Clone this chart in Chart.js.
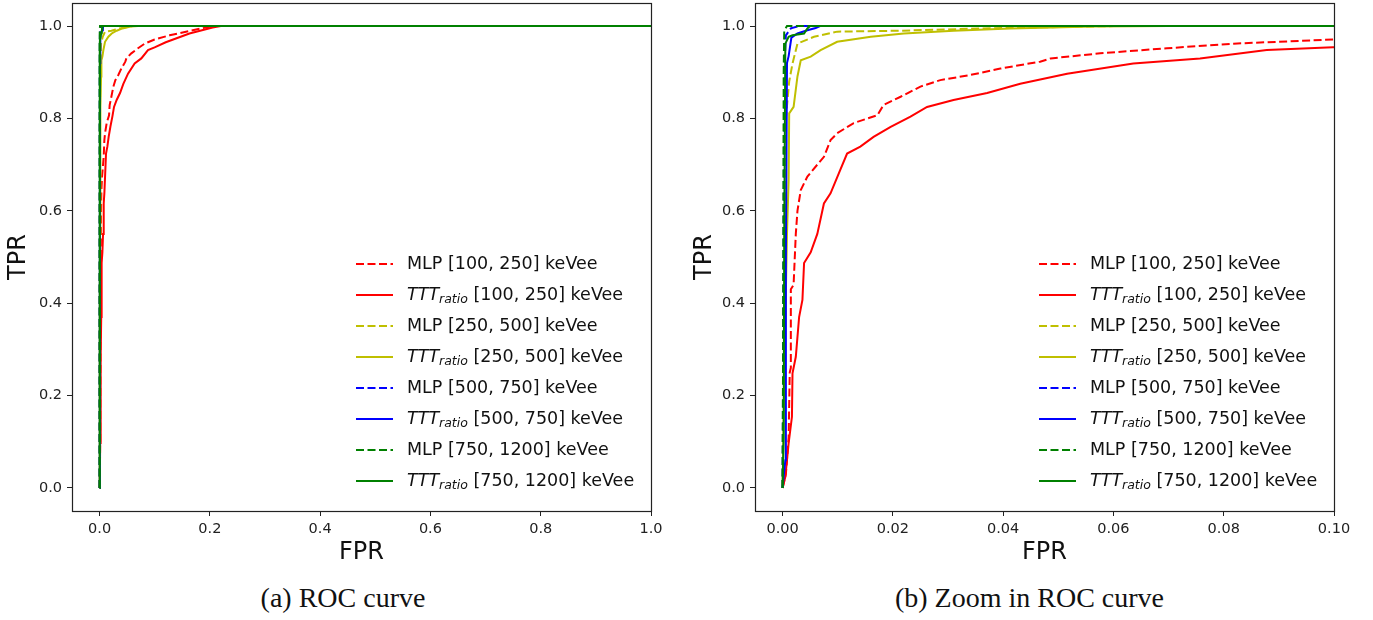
<!DOCTYPE html>
<html>
<head>
<meta charset="utf-8">
<script src="https://cdn.jsdelivr.net/npm/chart.js@4.4.1/dist/chart.umd.min.js"></script>
<style>
  html, body { margin: 0; padding: 0; background: #fff; }
  body { width: 1373px; height: 620px; position: relative; overflow: hidden; }
  .panel { position: absolute; top: 0; height: 580px; }
  .caption { position: absolute; top: 582px; text-align: center; font-family: 'Liberation Serif', 'DejaVu Serif', serif; font-size: 28px; color: #111; }
</style>
</head>
<body>
<div class="panel" style="left:0; width:686px"><canvas id="rocFull" width="686" height="580"></canvas></div>
<div class="panel" style="left:686px; width:687px"><canvas id="rocZoom" width="687" height="580"></canvas></div>
<div class="caption" style="left:0; width:686px">(a) ROC curve</div>
<div class="caption" style="left:686px; width:687px">(b) Zoom in ROC curve</div>
<script>
// ROC curves (FPR, TPR)
const fprMlp100 = [0, 0.0006, 0.0011, 0.0013, 0.0015, 0.0015, 0.0020, 0.0024, 0.0027, 0.0033, 0.0045, 0.0063, 0.0075, 0.0087, 0.0099, 0.0129, 0.0172, 0.0183, 0.0214, 0.025, 0.0286, 0.034, 0.0395, 0.0467, 0.0486, 0.0576, 0.0697, 0.0818, 0.0998, 0.127, 0.169, 0.205, 1];
const tprMlp100 = [0, 0.03, 0.11, 0.25, 0.26, 0.43, 0.44, 0.55, 0.60, 0.645, 0.674, 0.70, 0.717, 0.753, 0.768, 0.79, 0.807, 0.829, 0.847, 0.869, 0.883, 0.894, 0.908, 0.923, 0.930, 0.941, 0.952, 0.962, 0.971, 0.98, 0.991, 1.0, 1.0];

const fprTtt100 = [0, 0.0005, 0.0011, 0.0017, 0.0018, 0.0024, 0.003, 0.0036, 0.0039, 0.0051, 0.0063, 0.0075, 0.0087, 0.0102, 0.0117, 0.0141, 0.0165, 0.0196, 0.0232, 0.0262, 0.031, 0.0371, 0.0431, 0.0516, 0.0636, 0.0757, 0.0878, 0.0998, 0.12, 0.163, 0.205, 0.22, 1];
const tprTtt100 = [0, 0.024, 0.097, 0.154, 0.248, 0.284, 0.37, 0.407, 0.487, 0.51, 0.55, 0.616, 0.638, 0.681, 0.724, 0.739, 0.760, 0.782, 0.804, 0.825, 0.84, 0.855, 0.875, 0.897, 0.919, 0.930, 0.948, 0.954, 0.965, 0.984, 0.997, 1.0, 1.0];

const fprMlp250 = [0, 0.0003, 0.0006, 0.0012, 0.0018, 0.0027, 0.0057, 0.0099, 0.0214, 0.0365, 0.05, 0.06, 1];
const tprMlp250 = [0, 0.5, 0.8, 0.88, 0.919, 0.962, 0.977, 0.988, 0.990, 0.995, 0.998, 1.0, 1.0];

const fprTtt250 = [0, 0.0004, 0.0008, 0.0011, 0.0012, 0.002, 0.0027, 0.0033, 0.0051, 0.0069, 0.0099, 0.016, 0.022, 0.031, 0.0413, 0.0564, 0.07, 1];
const tprTtt250 = [0, 0.3, 0.55, 0.667, 0.811, 0.825, 0.891, 0.926, 0.934, 0.948, 0.966, 0.977, 0.984, 0.990, 0.995, 0.999, 1.0, 1.0];

const fprMlp500 = [0, 0.0003, 0.0006, 0.0015, 0.003, 1];
const tprMlp500 = [0, 0.9, 0.98, 0.995, 1.0, 1.0];

const fprTtt500 = [0, 0.0005, 0.0006, 0.0008, 0.0011, 0.0016, 0.0027, 0.0045, 0.006, 0.0068, 1];
const tprTtt500 = [0, 0.06, 0.5, 0.92, 0.935, 0.975, 0.984, 0.991, 0.996, 1.0, 1.0];

const fprMlp750 = [0, 0.0001, 0.0002, 0.0003, 0.0008, 1];
const tprMlp750 = [0, 0.3, 0.9, 0.99, 1.0, 1.0];

const fprTtt750 = [0, 0.0002, 0.0003, 0.0005, 0.0011, 0.0018, 0.0039, 0.0045, 0.005, 1];
const tprTtt750 = [0, 0.11, 0.55, 0.962, 0.977, 0.98, 0.984, 0.995, 1.0, 1.0];

const binLabels = ['[100, 250] keVee', '[250, 500] keVee', '[500, 750] keVee', '[750, 1200] keVee'];
const fullTicksX = [0, 0.2, 0.4, 0.6, 0.8, 1.0];
const zoomTicksX = [0, 0.02, 0.04, 0.06, 0.08, 0.10];
const ticksY = [0, 0.2, 0.4, 0.6, 0.8, 1.0];

const binColors = ['#ff0000', '#bfbf00', '#0000ff', '#008000'];
const dashPattern = [8, 3.5];

// method 0 = MLP (dashed), 1 = TTT_ratio (solid)
const curves = [
  { method: 0, bin: 0, fpr: fprMlp100, tpr: tprMlp100 },
  { method: 1, bin: 0, fpr: fprTtt100, tpr: tprTtt100 },
  { method: 0, bin: 1, fpr: fprMlp250, tpr: tprMlp250 },
  { method: 1, bin: 1, fpr: fprTtt250, tpr: tprTtt250 },
  { method: 0, bin: 2, fpr: fprMlp500, tpr: tprMlp500 },
  { method: 1, bin: 2, fpr: fprTtt500, tpr: tprTtt500 },
  { method: 0, bin: 3, fpr: fprMlp750, tpr: tprMlp750 },
  { method: 1, bin: 3, fpr: fprTtt750, tpr: tprTtt750 }
];

function toPoints(fpr, tpr) {
  return fpr.map((x, i) => ({ x: x, y: tpr[i] }));
}

// matplotlib-style box round the plot area
const frame = {
  id: 'frame',
  afterDraw(chart) {
    const a = chart.chartArea;
    const ctx = chart.ctx;
    ctx.save();
    ctx.strokeStyle = '#222';
    ctx.lineWidth = 1.2;
    ctx.strokeRect(Math.round(a.left) + 0.5, Math.round(a.top) + 0.5, Math.round(a.right - a.left), Math.round(a.bottom - a.top));
    ctx.restore();
  }
};

// legend with TTT_ratio subscript, no frame
const rocLegend = {
  id: 'rocLegend',
  afterDraw(chart) {
    const a = chart.chartArea;
    const ctx = chart.ctx;
    curves.forEach((c, i) => {
      const y = 264 + 31 * i;
      const x0 = a.right - 295;
      ctx.save();
      ctx.strokeStyle = binColors[c.bin];
      ctx.lineWidth = 2;
      ctx.setLineDash(c.method === 0 ? dashPattern : []);
      ctx.beginPath();
      ctx.moveTo(x0, y);
      ctx.lineTo(x0 + 37, y);
      ctx.stroke();
      ctx.setLineDash([]);
      ctx.fillStyle = '#111';
      ctx.textBaseline = 'middle';
      let tx = a.right - 244;
      if (c.method === 0) {
        ctx.font = '17.5px "DejaVu Sans"';
        ctx.fillText('MLP ' + binLabels[c.bin], tx, y);
      } else {
        ctx.font = 'italic 17.5px "DejaVu Sans"';
        ctx.fillText('TTT', tx, y);
        tx += ctx.measureText('TTT').width;
        ctx.font = 'italic 12.5px "DejaVu Sans"';
        ctx.fillText('ratio', tx, y + 5);
        tx += ctx.measureText('ratio').width;
        ctx.font = '17.5px "DejaVu Sans"';
        ctx.fillText(' ' + binLabels[c.bin], tx, y);
      }
      ctx.restore();
    });
  }
};

function createRocChart(canvasId, xMax, xTicks, xDecimals, axisWidth, padRight) {
  const ctx = document.getElementById(canvasId).getContext('2d');
  const tickFont = { family: 'DejaVu Sans', size: 14.5 };
  const titleFont = { family: 'DejaVu Sans', size: 24 };

  return new Chart(ctx, {
    type: 'line',
    data: {
      datasets: curves.map((c, i) => ({
        data: toPoints(c.fpr, c.tpr),
        borderColor: binColors[c.bin],
        borderWidth: 2,
        borderDash: c.method === 0 ? dashPattern : [],
        pointRadius: 0,
        tension: 0,
        fill: false,
        order: curves.length - i // later curves on top, like matplotlib
      }))
    },
    options: {
      responsive: false,
      animation: false,
      events: [],
      layout: { padding: { left: 0, top: 3, right: padRight, bottom: 0 } },
      plugins: {
        legend: { display: false },
        tooltip: { enabled: false }
      },
      scales: {
        x: {
          type: 'linear',
          min: -0.05 * xMax,
          max: xMax,
          afterBuildTicks: (axis) => { axis.ticks = xTicks.map(v => ({ value: v })); },
          afterFit: (axis) => { axis.height = 69; axis.paddingLeft = 0; axis.paddingRight = 0; },
          ticks: {
            font: tickFont,
            color: '#222',
            padding: 5,
            maxRotation: 0,
            callback: (v) => v.toFixed(xDecimals)
          },
          grid: { drawOnChartArea: false, drawTicks: true, tickLength: 5, color: '#222' },
          border: { display: false },
          title: { display: true, text: 'FPR', font: titleFont, color: '#111', padding: { top: 0, bottom: 13 } }
        },
        y: {
          type: 'linear',
          min: -0.05,
          max: 1.05,
          afterBuildTicks: (axis) => { axis.ticks = ticksY.map(v => ({ value: v })); },
          afterFit: (axis) => { axis.width = axisWidth; axis.paddingTop = 0; axis.paddingBottom = 0; },
          ticks: {
            font: tickFont,
            color: '#222',
            padding: 5,
            callback: (v) => v.toFixed(1)
          },
          grid: { drawOnChartArea: false, drawTicks: true, tickLength: 5, color: '#222' },
          border: { display: false },
          title: { display: true, text: 'TPR', font: titleFont, color: '#111', padding: { top: 4, bottom: 0 } }
        }
      }
    },
    plugins: [frame, rocLegend]
  });
}

createRocChart('rocFull', 1.0, fullTicksX, 1, 72, 35);
createRocChart('rocZoom', 0.10, zoomTicksX, 2, 69, 39);
</script>
</body>
</html>
